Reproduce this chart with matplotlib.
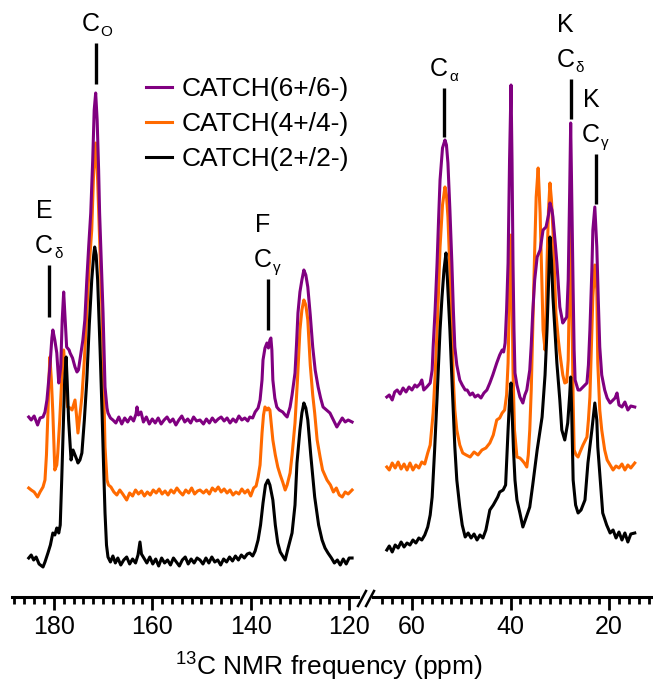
import numpy as np
import matplotlib
matplotlib.use('Agg')
import matplotlib.pyplot as plt

plt.rcParams['font.family'] = 'Liberation Sans'
plt.rcParams['mathtext.fontset'] = 'custom'
plt.rcParams['mathtext.rm'] = 'Liberation Sans'

# 13C CP spectra, (ppm, intensity) read per trace; intensities in a.u. above each trace's own baseline
cd6_left = [(185.1, 3), (184.6, 0), (184.0, 4), (183.3, -5), (182.8, 2), (182.2, 3), (181.8, 8), (181.4, 20),
            (180.8, 53), (180.4, 82), (180.2, 90), (179.8, 80), (179.4, 67), (179.0, 37), (178.6, 53), (178.3, 100),
            (178.0, 128), (177.7, 100), (177.4, 73), (176.9, 70), (176.7, 67), (176.2, 62), (175.7, 53), (175.3, 48),
            (175.0, 50), (174.7, 60), (174.1, 80), (173.7, 100), (173.3, 140), (172.9, 175), (172.5, 207), (172.1, 260),
            (171.8, 310), (171.5, 327), (171.2, 300), (170.9, 250), (170.7, 207), (170.0, 107), (169.6, 33), (169.2, 12),
            (169.0, 7), (168.5, 2), (168.0, 0), (167.4, -3), (166.8, 3), (166.2, -4), (165.6, 2), (165.0, -2),
            (164.4, 3), (163.8, -1), (163.3, 6), (163.1, 13), (162.8, 5), (162.3, 8), (161.8, -2), (161.2, 3),
            (160.6, -4), (160.0, 1), (159.4, -3), (158.8, 2), (158.2, -4), (157.6, 0), (157.0, 3), (156.4, -2),
            (155.8, 1), (155.2, -5), (154.6, 0), (154.0, 4), (153.4, -2), (152.8, 1), (152.2, -3), (151.6, 3),
            (151.0, -1), (150.3, 0), (149.6, -4), (149.0, 1), (148.4, -3), (147.8, 2), (147.2, -2), (146.6, 1),
            (146.0, 3), (145.4, -1), (144.8, 2), (144.2, -3), (143.6, 1), (143.0, -2), (142.4, 4), (141.8, 0),
            (141.2, 2), (140.6, -1), (140.2, 3), (139.6, 2), (139.1, 8), (138.5, 12), (138.1, 20), (137.7, 40),
            (137.5, 60), (137.1, 72), (136.7, 77), (136.4, 72), (136.1, 80), (135.9, 82), (135.7, 70), (135.5, 40),
            (135.1, 22), (134.7, 13), (134.2, 10), (133.5, 8), (133.0, 5), (132.6, 3), (132.3, 8), (132.0, 13),
            (131.6, 25), (131.0, 47), (130.7, 75), (130.4, 107), (130.0, 128), (129.6, 140), (129.2, 150), (128.8, 145),
            (128.4, 133), (127.9, 105), (127.4, 73), (126.9, 50), (126.3, 33), (125.8, 22), (125.3, 13), (124.6, 10),
            (123.9, 7), (123.2, 0), (122.5, -7), (122.0, -3), (121.4, 2), (120.8, -2), (120.2, 0), (119.4, -2)]

cd4_left = [(185.1, 2), (184.6, 0), (184.0, -2), (183.3, -7), (182.8, -2), (182.2, 3), (181.8, 10), (181.5, 35),
            (181.2, 77), (181.0, 110), (180.8, 133), (180.5, 110), (180.2, 77), (179.8, 20), (179.4, 25), (179.2, 37),
            (178.8, 70), (178.4, 110), (178.0, 140), (177.6, 110), (177.2, 83), (176.7, 82), (176.3, 80), (175.7, 90),
            (175.4, 75), (175.1, 57), (174.7, 75), (174.3, 93), (173.8, 130), (173.3, 177), (172.8, 225), (172.3, 260),
            (171.9, 320), (171.5, 347), (171.1, 310), (170.7, 250), (170.2, 177), (169.9, 110), (169.6, 43), (169.2, 10),
            (168.9, 5), (168.4, 3), (167.8, -2), (167.2, -5), (166.6, 0), (166.0, -4), (165.2, -10), (164.6, -3),
            (164.0, -6), (163.4, 0), (162.8, -4), (162.2, -1), (161.6, -6), (161.0, -2), (160.4, -5), (159.8, 0),
            (159.2, -3), (158.6, 1), (158.0, -4), (157.4, -1), (156.8, -5), (156.2, 0), (155.6, -3), (155.0, 2),
            (154.4, -2), (153.8, -5), (153.2, 0), (152.6, -3), (152.0, 2), (151.4, -4), (150.8, -1), (150.3, 0),
            (149.6, -3), (149.0, 0), (148.4, -4), (147.8, 2), (147.2, -1), (146.6, 3), (146.0, -2), (145.4, 1),
            (144.8, -3), (144.2, 0), (143.6, -5), (143.0, -2), (142.4, -4), (141.8, 1), (141.2, -3), (140.6, 0),
            (140.0, -6), (139.4, 2), (138.9, 4), (138.5, 13), (138.1, 25), (137.7, 57), (137.4, 75), (137.1, 83),
            (136.7, 80), (136.4, 82), (136.1, 80), (135.8, 65), (135.5, 50), (135.0, 35), (134.5, 23), (134.0, 15),
            (133.5, 8), (133.0, 0), (132.6, 5), (132.0, 17), (131.6, 35), (131.0, 67), (130.5, 110), (130.0, 160),
            (129.6, 180), (129.2, 190), (128.8, 185), (128.4, 170), (127.9, 125), (127.4, 95), (127.0, 77), (126.5, 50),
            (125.9, 33), (125.4, 20), (124.5, 10), (123.8, 5), (123.2, -2), (122.6, 2), (122.0, -5), (121.4, -7),
            (120.8, -2), (120.2, -4), (119.4, 0)]

cd2_left = [(185.1, 2), (184.6, 5), (184.1, 0), (183.6, 3), (183.0, -4), (182.2, -7), (181.8, -2), (181.2, 7),
            (180.7, 15), (180.2, 27), (179.8, 25), (179.4, 32), (179.2, 30), (179.0, 27), (178.7, 35), (178.4, 80),
            (178.1, 130), (177.8, 180), (177.5, 203), (177.3, 180), (177.0, 140), (176.7, 115), (176.5, 100), (176.1, 110),
            (175.7, 105), (175.3, 100), (175.1, 97), (174.7, 100), (174.3, 107), (173.8, 140), (173.3, 180), (172.8, 235),
            (172.3, 280), (171.9, 305), (171.7, 313), (171.4, 305), (171.1, 280), (170.6, 210), (170.2, 147), (169.9, 95),
            (169.6, 47), (169.3, 15), (169.0, 3), (168.5, -2), (168.0, 4), (167.5, -3), (167.0, 2), (166.4, -5),
            (165.8, 0), (165.2, 3), (164.6, -4), (164.0, 1), (163.4, -3), (162.9, 5), (162.5, 18), (162.2, 6),
            (161.7, 2), (161.1, -3), (160.5, 3), (159.9, -4), (159.3, 1), (158.7, -6), (158.1, 2), (157.5, -3),
            (156.9, 0), (156.3, -5), (155.7, 2), (155.1, -2), (154.5, -6), (153.9, 0), (153.3, 3), (152.7, -4),
            (152.1, 1), (151.5, -3), (150.9, 2), (150.3, 0), (149.7, -4), (149.1, 2), (148.5, -3), (147.9, 3),
            (147.3, -2), (146.7, 0), (146.1, -5), (145.5, 1), (144.9, -2), (144.3, 3), (143.7, -1), (143.1, 4),
            (142.5, 0), (141.9, 5), (141.3, 2), (140.7, 6), (140.2, 7), (139.6, 4), (139.1, 9), (138.5, 20),
            (138.0, 35), (137.5, 57), (137.0, 75), (136.5, 80), (136.1, 75), (135.5, 60), (135.0, 35), (134.5, 17),
            (134.0, 8), (133.5, 4), (133.0, 0), (132.5, 10), (131.6, 27), (131.0, 55), (130.6, 97), (130.0, 130),
            (129.6, 147), (129.2, 157), (128.8, 152), (128.4, 140), (127.8, 105), (127.0, 63), (126.2, 35), (125.5, 20),
            (124.9, 12), (124.3, 7), (123.6, 2), (123.0, -3), (122.4, 0), (121.8, -5), (121.2, 1), (120.6, -4),
            (120.0, 2), (119.4, 2)]

cd6_right = [(65.1, 23), (64.6, 25), (64.0, 20), (63.5, 28), (63.0, 30), (62.4, 26), (61.8, 32), (61.2, 28),
             (60.6, 33), (60.0, 30), (59.4, 35), (59.0, 33), (58.4, 36), (58.0, 40), (57.6, 30), (57.0, 33),
             (56.3, 37), (55.9, 50), (55.7, 73), (55.3, 110), (54.9, 157), (54.6, 200), (54.3, 240), (53.8, 272),
             (53.3, 280), (53.0, 275), (52.7, 257), (52.3, 210), (51.9, 157), (51.6, 110), (51.3, 73), (50.9, 55),
             (50.3, 40), (49.8, 35), (49.2, 30), (48.8, 30), (48.2, 25), (47.7, 27), (47.2, 23), (46.6, 25),
             (46.0, 22), (45.4, 27), (44.8, 30), (44.2, 37), (43.6, 45), (42.8, 57), (42.2, 65), (41.7, 70),
             (41.4, 68), (41.1, 77), (40.8, 110), (40.5, 157), (40.2, 260), (39.9, 335), (39.7, 260), (39.5, 157),
             (39.3, 90), (39.1, 47), (38.7, 35), (38.1, 23), (37.5, 17), (37.1, 25), (36.7, 30), (36.1, 50),
             (35.8, 75), (35.5, 107), (35.1, 140), (34.6, 163), (34.0, 170), (33.4, 190), (32.8, 193), (32.3, 205),
             (32.0, 217), (31.6, 210), (31.4, 203), (30.9, 175), (30.6, 157), (30.0, 113), (29.4, 97), (29.0, 100),
             (28.6, 103), (28.3, 140), (28.0, 230), (27.8, 297), (27.6, 230), (27.3, 130), (27.1, 70), (26.9, 40),
             (26.3, 30), (25.9, 30), (25.3, 33), (24.5, 37), (24.2, 55), (23.9, 90), (23.5, 150), (23.3, 190),
             (22.9, 213), (22.5, 173), (22.2, 120), (21.9, 73), (21.5, 45), (20.9, 30), (20.4, 22), (19.8, 17),
             (19.2, 20), (18.8, 22), (18.4, 27), (18.0, 15), (17.4, 13), (16.8, 18), (16.2, 10), (15.6, 14),
             (14.8, 13)]

cd4_right = [(65.1, 23), (64.6, 20), (64.0, 27), (63.4, 22), (62.8, 28), (62.2, 21), (61.6, 26), (61.0, 20),
             (60.4, 27), (59.8, 20), (59.2, 25), (58.6, 22), (58.0, 28), (57.4, 26), (56.8, 37), (56.3, 45),
             (55.7, 77), (55.3, 115), (54.9, 160), (54.6, 200), (54.3, 243), (53.8, 285), (53.3, 303), (53.0, 295),
             (52.7, 273), (52.3, 220), (51.9, 160), (51.6, 110), (51.3, 80), (50.9, 60), (50.3, 45), (49.7, 37),
             (49.0, 35), (48.2, 33), (47.4, 38), (46.6, 35), (45.8, 40), (45.0, 42), (44.2, 47), (43.5, 55),
             (42.8, 70), (42.2, 72), (41.7, 77), (41.2, 80), (40.8, 95), (40.5, 127), (40.2, 200), (39.9, 255),
             (39.7, 200), (39.5, 120), (39.2, 60), (38.7, 33), (38.1, 32), (37.7, 30), (37.2, 27), (36.7, 23),
             (36.4, 35), (36.1, 60), (35.8, 100), (35.5, 160), (35.1, 240), (34.8, 293), (34.4, 322), (34.2, 300),
             (34.0, 277), (33.6, 200), (33.4, 160), (33.0, 140), (32.8, 175), (32.6, 227), (32.3, 280), (32.0, 307),
             (31.7, 290), (31.4, 260), (30.8, 177), (30.3, 150), (30.0, 137), (29.4, 115), (29.0, 107), (28.6, 108),
             (28.3, 130), (28.0, 220), (27.8, 265), (27.6, 200), (27.3, 90), (27.1, 40), (26.7, 35), (26.3, 33),
             (25.9, 38), (25.3, 45), (24.5, 53), (24.2, 70), (23.9, 93), (23.3, 193), (22.9, 225), (22.5, 200),
             (22.3, 127), (21.9, 80), (21.5, 60), (20.9, 40), (20.4, 30), (19.8, 25), (19.2, 20), (18.6, 24),
             (18.0, 22), (17.4, 26), (16.8, 20), (16.2, 25), (15.6, 22), (14.8, 27)]

cd2_right = [(65.1, 10), (64.6, 14), (64.0, 8), (63.4, 15), (62.8, 12), (62.2, 18), (61.6, 13), (61.0, 17),
             (60.4, 15), (59.8, 20), (59.2, 17), (58.6, 22), (58.0, 20), (57.4, 25), (56.8, 33), (56.3, 45),
             (55.9, 63), (55.4, 110), (54.9, 163), (54.3, 230), (53.9, 263), (53.5, 290), (53.1, 307), (52.8, 280),
             (52.3, 230), (51.8, 170), (51.3, 113), (50.9, 80), (50.3, 53), (49.8, 35), (49.2, 23), (48.6, 27),
             (48.0, 22), (47.4, 26), (46.8, 20), (46.2, 25), (45.6, 22), (45.0, 30), (44.2, 50), (43.5, 55),
             (42.6, 63), (42.2, 68), (41.5, 70), (41.0, 75), (40.5, 130), (40.2, 160), (39.9, 177), (39.7, 150),
             (39.4, 110), (39.1, 80), (38.7, 60), (38.1, 47), (37.5, 33), (37.0, 40), (36.1, 53), (35.5, 75),
             (34.6, 110), (33.6, 143), (33.0, 185), (32.6, 230), (32.2, 290), (32.0, 323), (31.7, 300), (31.4, 263),
             (30.6, 197), (30.0, 160), (29.6, 130), (29.0, 120), (28.4, 137), (28.0, 165), (27.8, 183), (27.6, 150),
             (27.3, 80), (26.8, 55), (26.3, 47), (25.7, 50), (24.9, 60), (24.3, 97), (23.5, 130), (22.9, 157),
             (22.5, 140), (22.3, 113), (21.8, 80), (21.3, 47), (20.5, 35), (19.8, 27), (19.2, 30), (18.6, 22),
             (18.0, 28), (17.4, 20), (16.8, 27), (16.2, 18), (15.6, 26), (14.8, 27)]

labels = ['CATCH(6+/6-)', 'CATCH(4+/4-)', 'CATCH(2+/2-)']
colors = ['#800080', '#FF6A00', '#000000']
offsets = [140, 70, 0]
zorders = [2, 1, 3]

# peak assignments: (letter above, subscript, ppm, line bottom, line top, panel)
assignments = [('E', 'δ', 181.0, 243, 295, 0),
               (None, 'O', 171.5, 476, 517, 0),
               ('F', 'γ', 136.5, 230, 281, 0),
               (None, 'α', 53.5, 423, 472, 1),
               ('K', 'δ', 27.8, 441, 481, 1),
               ('K', 'γ', 22.7, 356, 406, 1)]

W, H = 653, 684
fig = plt.figure(figsize=(W / 100, H / 100), dpi=100)
ax1 = fig.add_axes([12 / W, 87 / H, 346 / W, 597 / H])
ax2 = fig.add_axes([373 / W, 87 / H, 280 / W, 597 / H])
axes = [ax1, ax2]

spectra = [(cd6_left, cd6_right), (cd4_left, cd4_right), (cd2_left, cd2_right)]
handles = []
for (left, right), lab, col, off, zo in zip(spectra, labels, colors, offsets, zorders):
    for ax, trace in zip(axes, (left, right)):
        ppm, inten = np.array(trace).T
        line, = ax.plot(ppm, inten + off, color=col, lw=2.2, zorder=zo,
                        solid_joinstyle='round')
    handles.append(line)

ax1.set_xlim(188.5, 118.2)
ax2.set_xlim(67.9, 11.1)
for ax, major, minor in [(ax1, [180, 160, 140, 120], np.arange(120, 189, 2)),
                         (ax2, [60, 40, 20], np.arange(12, 67, 2))]:
    ax.set_ylim(-37, 560)
    ax.set_xticks(major)
    ax.set_xticks(minor, minor=True)
    ax.set_yticks([])
    for s in ['left', 'right', 'top']:
        ax.spines[s].set_visible(False)
    ax.spines['bottom'].set_linewidth(2.2)
    ax.tick_params(axis='x', which='major', direction='out', length=9, width=2, labelsize=18, pad=4)
    ax.tick_params(axis='x', which='minor', direction='out', length=5, width=2)
    ax.patch.set_visible(False)

# axis break marks
for x0 in (358, 366):
    fig.add_artist(plt.Line2D([x0 / W, (x0 + 8) / W], [1 - 606 / H, 1 - 591 / H],
                              color='black', lw=1.8, transform=fig.transFigure))

# assignment labels with tick lines
for letter, sub, ppm, y0, y1, panel in assignments:
    ax = axes[panel]
    ax.plot([ppm, ppm], [y0, y1], color='black', lw=2.4, solid_capstyle='butt')
    ax.annotate('C', xy=(ppm, y1), xytext=(-5, 19), textcoords='offset pixels',
                ha='center', va='center', fontsize=18)
    ax.annotate(sub, xy=(ppm, y1), xytext=(5, 11), textcoords='offset pixels',
                ha='left', va='center', fontsize=11)
    if letter:
        ax.annotate(letter, xy=(ppm, y1), xytext=(-5, 54), textcoords='offset pixels',
                    ha='center', va='center', fontsize=18)

ax1.legend(handles, labels, loc='upper left', bbox_to_anchor=(146 / W, 1 - 77 / H),
           bbox_transform=fig.transFigure, frameon=False, fontsize=19,
           handlelength=1.0, handletextpad=0.35, labelspacing=0.42, borderpad=0,
           borderaxespad=0)

fig.text(329 / W, 1 - 667 / H, r'$\mathregular{^{13}}$C NMR frequency (ppm)',
         ha='center', va='center', fontsize=19)

fig.savefig('out.png', dpi=100)
